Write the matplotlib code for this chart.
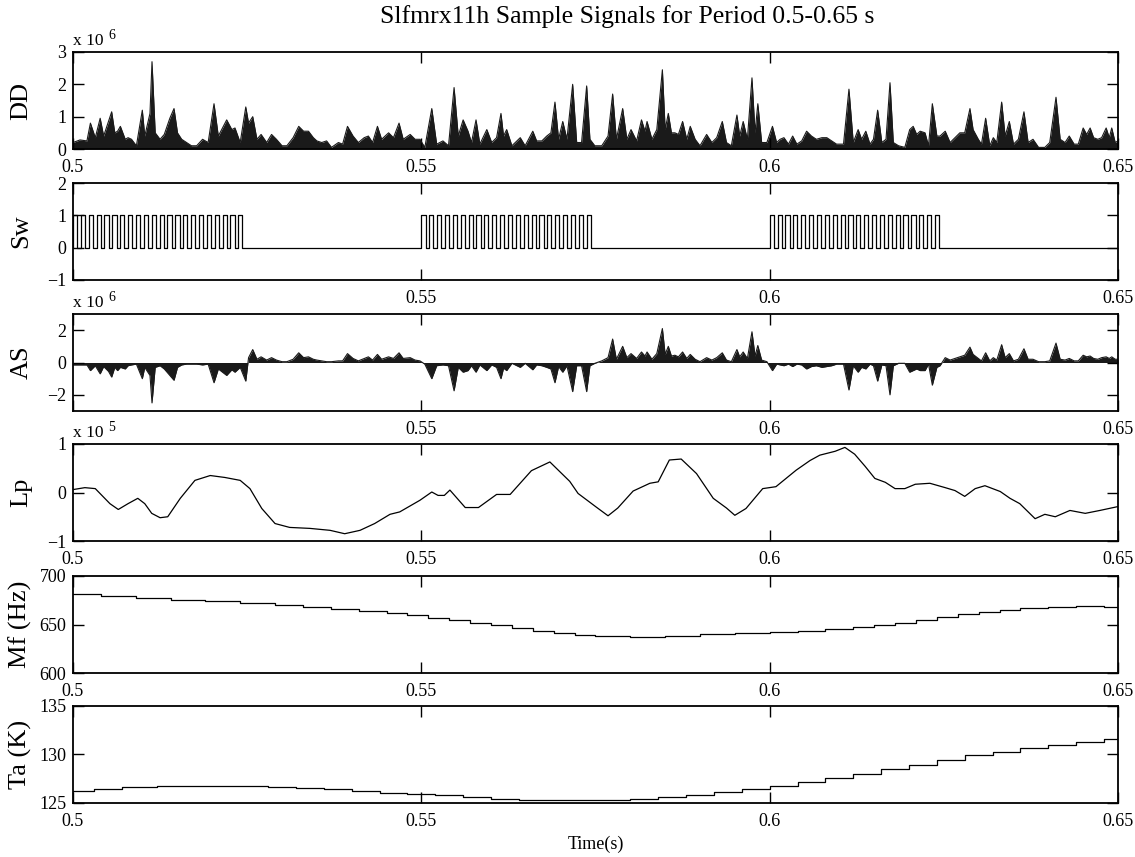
import numpy as np
import matplotlib
matplotlib.use("Agg")
import matplotlib.pyplot as plt

plt.rcParams['font.family'] = ['Liberation Serif', 'DejaVu Serif']
plt.rcParams['mathtext.fontset'] = 'stix'

# ---- DD / AS : shared sample times (ms) ----
sig_t = [
    500.0, 501.0, 502.0, 502.5, 503.2, 503.9, 504.4, 505.1, 505.55, 506.0, 506.4, 506.8, 507.5, 507.9, 508.4,
    509.1, 509.95, 510.3, 511.05, 511.34, 511.8, 512.5, 513.1, 513.9, 514.5, 515.0, 515.6, 516.3, 517.0, 517.75,
    518.6, 519.4, 520.24, 520.86, 522.06, 522.8, 523.25, 524.0, 524.8, 525.2, 525.8, 526.4, 527.0, 527.8, 528.5,
    529.2, 530.0, 530.7, 531.6, 532.4, 533.1, 533.8, 534.5, 535.0, 535.7, 536.4, 537.1, 538.1, 538.7, 539.4,
    540.2, 540.96, 541.8, 542.4, 543.0, 543.7, 544.3, 545.3, 546.0, 546.8, 547.4, 548.4, 549.1, 549.8, 550.5,
    551.5,
    552.2, 553.1, 553.9, 554.7, 555.3, 556.0, 556.7, 557.2, 557.85, 558.4, 559.4, 560.1, 560.8, 561.43, 561.8,
    562.25, 563.0, 564.2, 564.9, 566.0, 566.55, 567.3, 568.0, 568.6, 569.18, 569.7, 570.3, 570.9, 571.72, 572.3,
    573.0, 573.73, 574.2, 574.9, 575.9, 576.8, 577.46, 578.0, 578.9, 579.5, 580.1, 580.9, 581.6, 582.1, 582.4,
    583.1, 583.8, 584.6, 585.0, 585.45, 585.9, 586.4, 586.9, 587.5, 588.1, 588.6, 589.3, 590.0, 590.95, 591.7,
    592.4, 593.2, 593.8, 594.5, 595.3, 595.7, 596.2, 596.8, 597.46, 597.9, 598.3, 598.85, 599.6, 600.4, 601.0,
    601.5, 602.05, 602.7, 603.3, 603.9, 604.6,
    605.3, 606.0, 606.7, 607.5, 608.2, 608.9, 609.6, 610.6, 611.38, 612.0, 612.7, 613.2, 613.8, 614.4, 614.9,
    615.5, 616.1, 616.7, 617.27, 617.75, 618.5, 619.4, 620.1, 620.6, 621.1, 621.6, 622.3, 622.8, 623.35, 624.0,
    624.45, 625.2, 625.9, 626.6, 627.3, 628.0, 628.75, 629.2, 629.95, 630.4, 631.0, 631.6, 632.1, 632.6, 633.3,
    633.8, 634.4, 635.0, 635.7, 636.5, 637.1, 637.8, 638.6, 639.5, 640.2, 641.1, 641.7, 642.4, 643.0, 643.7,
    644.3, 645.0, 645.5, 646.0, 646.5, 647.1, 647.65, 648.3, 648.75, 649.1, 649.6, 650.0,
]
# DD in units of 1e6
dd_vals = [
    0.2, 0.28, 0.25, 0.8, 0.35, 0.95, 0.4, 0.85, 1.15, 0.5, 0.55, 0.7, 0.3, 0.35, 0.3,
    0.1, 1.2, 0.4, 1.1, 2.7, 0.5, 0.3, 0.45, 0.95, 1.25, 0.5, 0.3, 0.2, 0.1, 0.1,
    0.3, 0.2, 1.4, 0.4, 0.9, 0.6, 0.65, 0.2, 1.3, 0.8, 1.0, 0.3, 0.45, 0.2, 0.45,
    0.3, 0.1, 0.1, 0.35, 0.7, 0.55, 0.55, 0.35, 0.25, 0.2, 0.25, 0.05, 0.2, 0.15, 0.7,
    0.4, 0.2, 0.35, 0.4, 0.2, 0.7, 0.3, 0.5, 0.35, 0.8, 0.3, 0.45, 0.3, 0.3, 0.05,
    1.25,
    0.15, 0.25, 0.1, 1.9, 0.4, 0.9, 0.55, 0.2, 0.9, 0.15, 0.6, 0.2, 0.35, 1.1, 0.4,
    0.6, 0.1, 0.35, 0.1, 0.55, 0.25, 0.25, 0.4, 0.5, 1.45, 0.3, 0.85, 0.3, 2.0, 0.2,
    0.2, 1.95, 0.3, 0.1, 0.1, 0.4, 1.7, 0.3, 1.25, 0.3, 0.6, 0.25, 0.9, 0.55, 0.85,
    0.3, 0.6, 2.45, 0.6, 1.1, 0.5, 0.5, 0.45, 0.85, 0.3, 0.7, 0.3, 0.1, 0.45, 0.2,
    0.35, 0.85, 0.2, 0.1, 1.05, 0.4, 0.85, 0.3, 2.2, 0.5, 1.4, 0.2, 0.2, 0.7, 0.2,
    0.3, 0.35, 0.15, 0.4, 0.15, 0.25,
    0.55, 0.4, 0.3, 0.35, 0.35, 0.25, 0.15, 0.15, 1.85, 0.2, 0.6, 0.3, 0.55, 0.15, 0.3,
    1.2, 0.2, 0.3, 2.05, 0.2, 0.1, 0.05, 0.6, 0.7, 0.45, 0.55, 0.5, 0.1, 1.4, 0.4,
    0.4, 0.55, 0.2, 0.35, 0.5, 0.5, 1.25, 0.6, 0.3, 0.15, 0.95, 0.1, 0.35, 0.2, 1.45,
    0.4, 0.85, 0.15, 0.3, 1.15, 0.2, 0.3, 0.05, 0.05, 0.2, 1.6, 0.3, 0.2, 0.4, 0.15,
    0.15, 0.65, 0.45, 0.65, 0.35, 0.3, 0.35, 0.65, 0.35, 0.65, 0.2, 0.25,
]
# AS in units of 1e6
as_vals = [
    -0.15, -0.15, -0.15, -0.5, -0.2, -0.7, -0.25, -0.55, -0.9, -0.3, -0.5, -0.3, -0.4, -0.2, -0.15,
    -0.1, -1.0, -0.3, -0.8, -2.5, -0.3, -0.2, -0.4, -0.8, -1.1, -0.3, -0.15, -0.1, -0.1, -0.1,
    -0.15, -0.1, -1.25, -0.4, -0.8, -0.45, -0.6, -0.3, -1.15, 0.3, 0.8, 0.2, 0.35, 0.15, 0.3,
    0.15, 0.05, 0.05, 0.2, 0.6, 0.3, 0.35, 0.2, 0.15, 0.1, 0.05, 0.05, 0.1, 0.1, 0.55,
    0.25, 0.1, 0.25, 0.35, 0.15, 0.5, 0.2, 0.35, 0.25, 0.6, 0.25, 0.3, 0.15, 0.1, -0.1,
    -1.0,
    -0.2, -0.15, -0.2, -1.75, -0.3, -0.6, -0.5, -0.2, -0.6, -0.15, -0.5, -0.15, -0.3, -1.0, -0.35,
    -0.5, -0.05, -0.3, -0.05, -0.45, -0.15, -0.2, -0.3, -0.4, -1.25, -0.25, -0.6, -0.2, -1.8, -0.2,
    -0.2, -1.8, -0.2, -0.05, 0.1, 0.3, 1.45, 0.2, 1.0, 0.3, 0.55, 0.25, 0.65, 0.4, 0.65,
    0.2, 0.55, 2.1, 0.5, 1.0, 0.4, 0.45, 0.35, 0.65, 0.25, 0.5, 0.2, 0.05, 0.3, 0.15,
    0.3, 0.6, 0.15, 0.05, 0.8, 0.35, 0.65, 0.25, 1.9, 0.4, 1.05, 0.15, 0.05, -0.5, -0.1,
    -0.15, -0.2, -0.1, -0.25, -0.1, -0.15,
    -0.4, -0.25, -0.2, -0.3, -0.25, -0.2, -0.1, -0.1, -1.7, -0.2, -0.6, -0.3, -0.4, -0.1, -0.2,
    -1.15, -0.15, -0.2, -2.0, -0.2, -0.05, -0.05, -0.6, -0.5, -0.4, -0.5, -0.5, -0.1, -1.4, -0.3,
    -0.2, 0.3, 0.15, 0.25, 0.35, 0.45, 0.95, 0.5, 0.25, 0.1, 0.6, 0.1, 0.3, 0.15, 1.1,
    0.3, 0.55, 0.1, 0.2, 0.85, 0.2, 0.2, 0.05, 0.05, 0.1, 1.2, 0.2, 0.15, 0.25, 0.1,
    0.1, 0.45, 0.35, 0.4, 0.25, 0.2, 0.3, 0.35, 0.25, 0.35, 0.2, 0.2,
]

# ---- Sw : switching bursts ----
sw_burst_starts = [0.5, 0.55, 0.6]
sw_pulses = 22
sw_period = 0.00113
sw_high = 0.00060

# ---- Lp (units of 1e5) ----
lp_t = [500.0, 501.7, 503.2, 505.3, 506.5, 507.9, 509.3, 510.3, 511.3, 512.5, 513.6, 515.4, 517.5, 519.7,
        521.8, 524.0, 525.4, 527.1, 529.0, 531.1, 534.0, 536.9, 539.0, 541.2, 543.3, 545.5, 546.9, 549.8,
        551.5, 552.4, 553.3, 554.1, 556.3, 558.2, 560.8, 562.75, 565.8, 568.45, 571.3, 572.5, 575.1, 576.8,
        578.2, 580.4, 582.8, 584.0, 585.6, 587.3, 589.5, 591.9, 593.8, 595.0, 596.6, 599.0, 600.9, 603.8,
        605.8, 607.2, 609.4, 610.8, 612.2, 613.7, 615.1, 616.6, 618.0, 619.4, 620.9, 623.0, 625.2, 626.6,
        628.0, 629.5, 630.9, 633.1, 634.5, 635.9, 638.1, 639.5, 641.0, 643.1, 645.3, 647.4, 650.0]
lp_vals = [0.06, 0.1, 0.08, -0.23, -0.35, -0.23, -0.12, -0.23, -0.43, -0.52, -0.5, -0.12, 0.25, 0.35,
           0.31, 0.25, 0.08, -0.33, -0.64, -0.72, -0.74, -0.78, -0.85, -0.78, -0.64, -0.45, -0.4, -0.16,
           0.01, -0.06, -0.06, 0.05, -0.31, -0.31, -0.04, -0.04, 0.45, 0.63, 0.23, -0.02, -0.3, -0.48,
           -0.32, 0.03, 0.19, 0.22, 0.67, 0.69, 0.39, -0.12, -0.32, -0.47, -0.33, 0.08, 0.12, 0.46,
           0.66, 0.77, 0.85, 0.93, 0.79, 0.54, 0.29, 0.21, 0.08, 0.08, 0.17, 0.19, 0.1, 0.04,
           -0.08, 0.08, 0.14, 0.02, -0.12, -0.23, -0.54, -0.45, -0.5, -0.37, -0.43, -0.37, -0.29]

# ---- Mf (Hz), staircase ----
mf_t = [500, 504, 509, 514, 519, 524, 529, 533, 537, 541, 545, 548, 551, 554, 557, 560, 563, 566, 569,
        572, 575, 580, 585, 590, 595, 600, 604, 608, 612, 615, 618, 621, 624, 627, 630, 633, 636, 640,
        644, 648, 650]
mf_vals = [681, 679, 677, 675, 674, 672, 670, 668, 666, 664, 662, 660, 657, 655, 652, 649, 646, 643, 641,
           639, 638, 637, 638, 640, 641, 642, 643, 645, 647, 649, 652, 655, 658, 661, 663, 665, 667, 668,
           669, 668, 668]

# ---- Ta (K), staircase ----
ta_t = [500, 503, 507, 512, 520, 528, 532, 536, 540, 544, 548, 552, 556, 560, 564, 568, 572, 576, 580,
        584, 588, 592, 596, 600, 604, 608, 612, 616, 620, 624, 628, 632, 636, 640, 644, 648, 650]
ta_vals = [126.2, 126.4, 126.6, 126.8, 126.8, 126.7, 126.55, 126.4, 126.2, 126.05, 125.95, 125.8, 125.6,
           125.45, 125.35, 125.3, 125.3, 125.35, 125.45, 125.6, 125.8, 126.1, 126.4, 126.8, 127.2, 127.6,
           128.0, 128.5, 128.9, 129.4, 129.9, 130.3, 130.7, 131.0, 131.3, 131.6, 131.7]

t_sig = np.array(sig_t) / 1000.0

fig = plt.figure(figsize=(11.35, 8.57), dpi=100)
left, width, h = 73 / 1135, 1045 / 1135, 97 / 857
tops = [52, 183, 314, 444, 576, 706]
axes = [fig.add_axes([left, 1 - (tp + 97) / 857, width, h]) for tp in tops]

for i, ax in enumerate(axes):
    ax.set_xlim(0.5, 0.65)
    ax.set_xticks([0.5, 0.55, 0.6, 0.65])
    # MATLAB hides the 0.5 label under Sw and AS (overlapped by the exponent text)
    first = '' if i in (1, 2) else '0.5'
    ax.set_xticklabels([first, '0.55', '0.6', '0.65'])
    ax.tick_params(direction='in', top=True, right=True, length=8, width=1, labelsize=13)
    ax.tick_params(axis='x', pad=7)
    ax.tick_params(axis='y', pad=5)
    for s in ax.spines.values():
        s.set_linewidth(1.3)

lab = dict(fontsize=19)

def exponent(ax, p):
    ax.text(0.0, 1.035, 'x 10', transform=ax.transAxes, fontsize=12.5, va='bottom', ha='left')
    ax.text(0.034, 1.10, str(p), transform=ax.transAxes, fontsize=10, va='bottom', ha='left')

ax = axes[0]
ax.fill_between(t_sig, 0, dd_vals, color='#1a1a1a', lw=0)
ax.plot(t_sig, dd_vals, color='#1a1a1a', lw=0.8)
ax.set_ylim(0, 3)
ax.set_yticks([0, 1, 2, 3])
ax.set_ylabel('DD', **lab)
exponent(ax, 6)

ax = axes[1]
sw_t, sw_v = [0.5], [0]
for b in sw_burst_starts:
    for k in range(sw_pulses):
        t0 = b + k * sw_period
        sw_t += [t0, t0 + sw_high]
        sw_v += [1, 0]
sw_t.append(0.65)
sw_v.append(0)
ax.step(sw_t, sw_v, where='post', color='black', lw=0.9)
ax.set_ylim(-1, 2)
ax.set_yticks([-1, 0, 1, 2])
ax.set_ylabel('Sw', **lab)

ax = axes[2]
ax.fill_between(t_sig, 0, as_vals, color='#1a1a1a', lw=0)
ax.plot(t_sig, as_vals, color='#1a1a1a', lw=0.8)
ax.set_ylim(-3, 3)
ax.set_yticks([-2, 0, 2])
ax.set_ylabel('AS', **lab)
exponent(ax, 6)

ax = axes[3]
ax.plot(np.array(lp_t) / 1000.0, lp_vals, color='black', lw=0.9)
ax.set_ylim(-1, 1)
ax.set_yticks([-1, 0, 1])
ax.set_ylabel('Lp', **lab)
exponent(ax, 5)

ax = axes[4]
ax.step(np.array(mf_t) / 1000.0, mf_vals, where='post', color='black', lw=0.9)
ax.set_ylim(600, 700)
ax.set_yticks([600, 650, 700])
ax.set_ylabel('Mf (Hz)', **lab)

ax = axes[5]
ax.step(np.array(ta_t) / 1000.0, ta_vals, where='post', color='black', lw=0.9)
ax.set_ylim(125, 135)
ax.set_yticks([125, 130, 135])
ax.set_ylabel('Ta (K)', **lab)
ax.set_xlabel('Time(s)', fontsize=13, labelpad=4)

for ax in axes:
    ax.yaxis.set_label_coords(-0.039, 0.5)

fig.text(627 / 1135, 1 - 17 / 857, 'Slfmrx11h Sample Signals for Period 0.5-0.65 s',
         fontsize=18.5, ha='center', va='center')
fig.savefig('out.png', dpi=100)
